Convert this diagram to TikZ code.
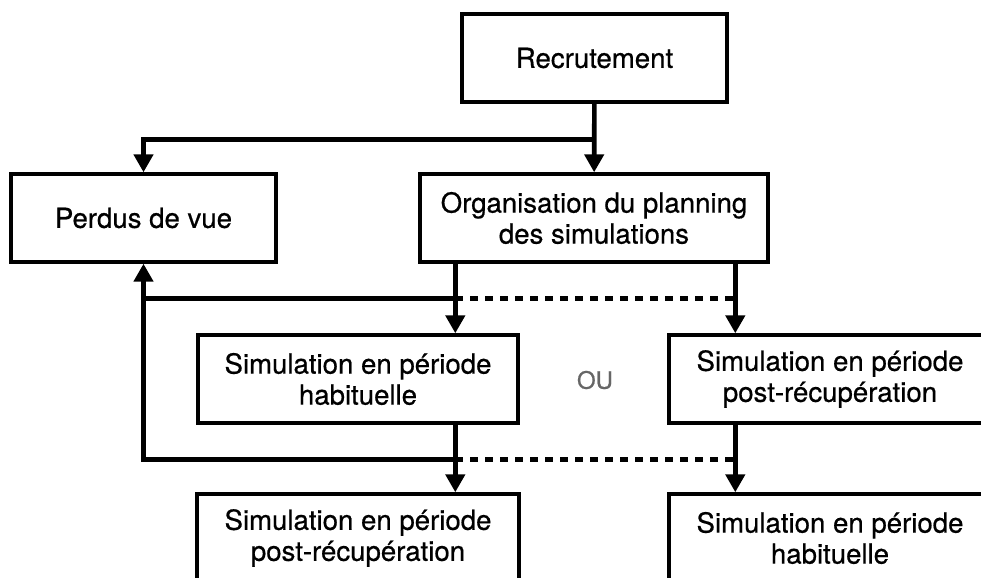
\documentclass[tikz,border=0pt]{standalone}
\usepackage{fontspec}
\setmainfont{TeX Gyre Heros}
\newfontfamily\moyen{TeX Gyre Heros}[FakeBold=0.6]
\usetikzlibrary{arrows.meta}

\tikzset{
  etape/.style={draw, line width=1.7pt, inner sep=0pt, align=center,
    minimum height=44pt, font=\moyen\fontsize{13.8}{15.5}\selectfont},
  fleche/.style={line width=2.3pt, -{Triangle[length=9pt,width=9.5pt]}},
  lien/.style={line width=2.3pt},
  pointille/.style={line width=2.3pt, dash pattern=on 4pt off 3.5pt},
}

\begin{document}
\begin{tikzpicture}[x=0.5pt,y=-0.5pt]
  \clip (0,0) rectangle (981,578);

  \node (rec) [etape, minimum width=132.5pt] at (594.5,58) {Recrutement};
  \node (pdv) [etape, minimum width=132.5pt] at (143.5,218) {Perdus de vue};
  \node (org) [etape, minimum width=174pt] at (594,218)
    {Organisation du planning\\des simulations};
  \node (sha) [etape, minimum width=160pt] at (358,379)
    {Simulation en période\\habituelle};
  \node (spa) [etape, minimum width=161pt] at (830,379)
    {Simulation en période\\post-récupération};
  \node (spb) [etape, minimum width=161pt] at (358,538)
    {Simulation en période\\post-récupération};
  \node (shb) [etape, minimum width=161pt] at (830,538)
    {Simulation en période\\habituelle};
  \node (ou) [text=black!60, font=\moyen\fontsize{12}{14}\selectfont] at (595,380) {OU};

  % recrutement
  \draw[fleche] (rec) -- (org);
  \path (rec.south) +(0,36) coordinate (recb) {};
  \draw[fleche] (recb) -| (pdv.north);

  % premiere simulation
  \path (org.south west) +(37,0) coordinate (orgl) {};
  \path (org.south west) +(317,0) coordinate (orgr) {};
  \path (sha.north west) +(259,0) coordinate (shai) {};
  \path (spa.north west) +(68,0) coordinate (spai) {};
  \draw[fleche] (orgl) -- (shai);
  \draw[fleche] (orgr) -- (spai);
  \path (orgl) +(0,35) coordinate (orglb) {};
  \path (orgr) +(0,35) coordinate (orgrb) {};
  \draw[lien] (orglb) -- (orglb -| pdv.south);
  \draw[pointille] (orglb) -- (orgrb);

  % seconde simulation
  \path (sha.south west) +(259,0) coordinate (shao) {};
  \path (spa.south west) +(68,0) coordinate (spao) {};
  \path (spb.north west) +(260,0) coordinate (spbi) {};
  \path (shb.north west) +(68,0) coordinate (shbi) {};
  \draw[fleche] (shao) -- (spbi);
  \draw[fleche] (spao) -- (shbi);
  \path (shao) +(0,35) coordinate (shaob) {};
  \path (spao) +(0,35) coordinate (spaob) {};
  \draw[fleche] (shaob) -| (pdv.south);
  \draw[pointille] (shaob) -- (spaob);
\end{tikzpicture}
\end{document}
